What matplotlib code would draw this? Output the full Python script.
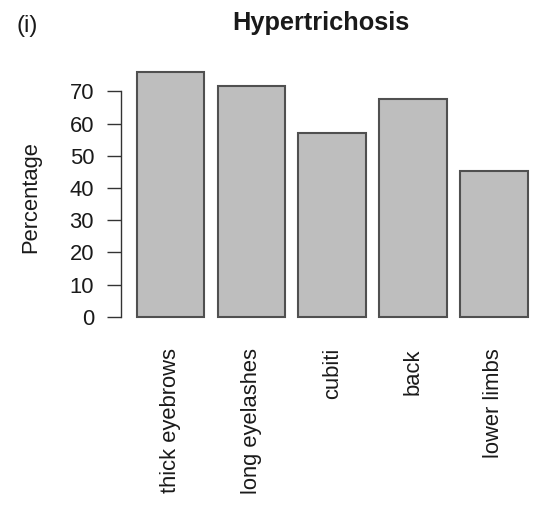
import matplotlib
matplotlib.use("Agg")
import matplotlib.pyplot as plt
import numpy as np

# data
categories = ["thick eyebrows", "long eyelashes", "cubiti", "back", "lower limbs"]
percentages = [75.9, 71.6, 57.2, 67.6, 45.4]
yticks = [0, 10, 20, 30, 40, 50, 60, 70]

plt.rcParams['font.family'] = ['Liberation Sans', 'DejaVu Sans']

fig = plt.figure(figsize=(5.4, 5.08), dpi=100)
# axes placed like R's plot region
ax = fig.add_axes([120.5 / 540, 1 - 326.5 / 508, (540 - 120.5) / 540, (326.5 - 62.7) / 508])

# R barplot layout: width 1, space 0.2
x = 0.2 + 1.2 * np.arange(len(categories)) + 0.5
ax.bar(x, percentages, width=1.0, color='#bebebe', edgecolor='#505050', linewidth=1.5)

ymax = max(percentages)
ax.set_ylim(-0.04 * ymax, ymax * 1.04)
ax.set_xlim(-0.04, -0.04 + (540 - 120.5) / 67.4)

for s in ['top', 'right', 'bottom']:
    ax.spines[s].set_visible(False)
ax.spines['left'].set_bounds(0, 70)
ax.spines['left'].set_color('#333333')
ax.spines['left'].set_linewidth(1.0)

ax.set_yticks(yticks)
ax.tick_params(axis='y', length=10, width=1.0, color='#333333', pad=9, labelsize=15.8, labelcolor='#1a1a1a')
ax.set_xticks(x)
ax.set_xticklabels(categories, rotation=90)
ax.tick_params(axis='x', length=0, pad=15.5, labelsize=15.8, labelcolor='#1a1a1a')

ax.set_ylabel('Percentage', fontsize=15.8, color='#1a1a1a', va='center')
ax.yaxis.set_label_coords(-0.2134, 0.491)

ax.set_title('Hypertrichosis', fontsize=18.3, fontweight='bold', color='#1a1a1a',
             x=(321 - 120.5) / 419.5, y=(326.5 - 30) / 263.8, va='baseline', pad=0)

fig.text(17 / 540, 1 - 26 / 508, '(i)', fontsize=17.5, color='#1a1a1a', ha='left', va='center')

fig.savefig('out.png', dpi=100)
